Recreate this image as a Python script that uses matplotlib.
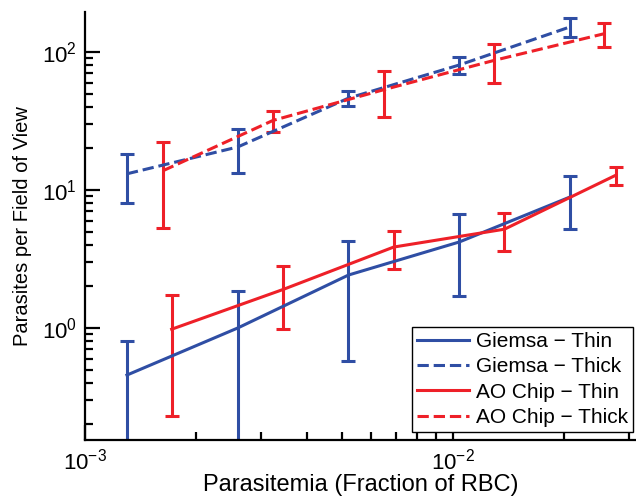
import matplotlib
matplotlib.use("Agg")
import matplotlib.pyplot as plt
from matplotlib.lines import Line2D
from matplotlib.ticker import LogLocator, NullFormatter

plt.rcParams['font.family'] = ['Liberation Sans', 'DejaVu Sans']
plt.rcParams['mathtext.fontset'] = 'custom'
plt.rcParams['mathtext.rm'] = 'Liberation Sans'
plt.rcParams['mathtext.it'] = 'Liberation Sans:italic'
plt.rcParams['mathtext.bf'] = 'Liberation Sans:bold'

# Data
giemsa_x = [1.3e-3, 2.6e-3, 5.2e-3, 1.04e-2, 2.08e-2]
giemsa_thin = [0.456, 1.0, 2.42, 4.2, 8.9]
giemsa_thin_err = [0.35, 0.85, 1.84, 2.5, 3.7]
giemsa_thick = [13.1, 20.5, 46.3, 80.5, 152]
giemsa_thick_err = [5.1, 7.2, 5.7, 11.5, 23]

ao_thin_x = [1.72e-3, 3.45e-3, 6.9e-3, 1.38e-2, 2.77e-2]
ao_thin = [0.98, 1.9, 3.86, 5.2, 12.8]
ao_thin_err = [0.75, 0.92, 1.18, 1.6, 1.85]
ao_thick_x = [1.63e-3, 3.24e-3, 6.5e-3, 1.29e-2, 2.57e-2]
ao_thick = [13.8, 31.9, 53.4, 86.8, 135.5]
ao_thick_err = [8.5, 5.55, 19.6, 27.2, 26.5]

labels = ['Giemsa \u2212 Thin', 'Giemsa \u2212 Thick', 'AO Chip \u2212 Thin', 'AO Chip \u2212 Thick']

blue = '#2F4EA4'
red = '#EE2028'
lw = 2.2

fig = plt.figure(figsize=(6.36, 4.97), dpi=100)
ax = fig.add_axes([85/636, 57/497, 551/636, 428/497])
ax.set_xscale('log')
ax.set_yscale('log')

series = [
    (giemsa_x, giemsa_thin, giemsa_thin_err, blue, '-'),
    (giemsa_x, giemsa_thick, giemsa_thick_err, blue, '--'),
    (ao_thin_x, ao_thin, ao_thin_err, red, '-'),
    (ao_thick_x, ao_thick, ao_thick_err, red, '--'),
]
for x, y, e, c, ls in series:
    eb = ax.errorbar(x, y, yerr=e, color=c, linestyle=ls, linewidth=lw,
                     elinewidth=lw, capsize=4.8, capthick=lw)
    eb[-1][0].set_linestyle('-')

ax.set_xlim(1e-3, 10 ** (-3 + 551/368))
ax.set_ylim(10 ** (-112/138), 10 ** (2 + 40/138))

for s in ['top', 'right']:
    ax.spines[s].set_visible(False)
for s in ['left', 'bottom']:
    ax.spines[s].set_linewidth(1.6)

ax.xaxis.set_major_locator(LogLocator(base=10))
ax.yaxis.set_major_locator(LogLocator(base=10))
ax.xaxis.set_minor_locator(LogLocator(base=10, subs=range(2, 10)))
ax.yaxis.set_minor_locator(LogLocator(base=10, subs=range(2, 10)))
ax.xaxis.set_minor_formatter(NullFormatter())
ax.yaxis.set_minor_formatter(NullFormatter())
ax.tick_params(which='major', direction='in', length=10.5, width=1.6, labelsize=16, pad=6)
ax.tick_params(which='minor', direction='in', length=6, width=1.6)

ax.set_xlabel('Parasitemia (Fraction of RBC)', fontsize=17, labelpad=0)
ax.set_ylabel('Parasites per Field of View', fontsize=14.5, labelpad=7)

handles = [Line2D([], [], color=c, linestyle=ls, linewidth=lw) for _, _, _, c, ls in series]
leg = ax.legend(handles, labels, loc='lower right', fontsize=15,
                bbox_to_anchor=(633/636, 65/497), bbox_transform=fig.transFigure,
                borderaxespad=0, fancybox=False, framealpha=1, edgecolor='black',
                handlelength=2.5, handletextpad=0.3, labelspacing=0.3,
                borderpad=0.25)
leg.get_frame().set_linewidth(1.0)

fig.savefig('out.png', dpi=100)
